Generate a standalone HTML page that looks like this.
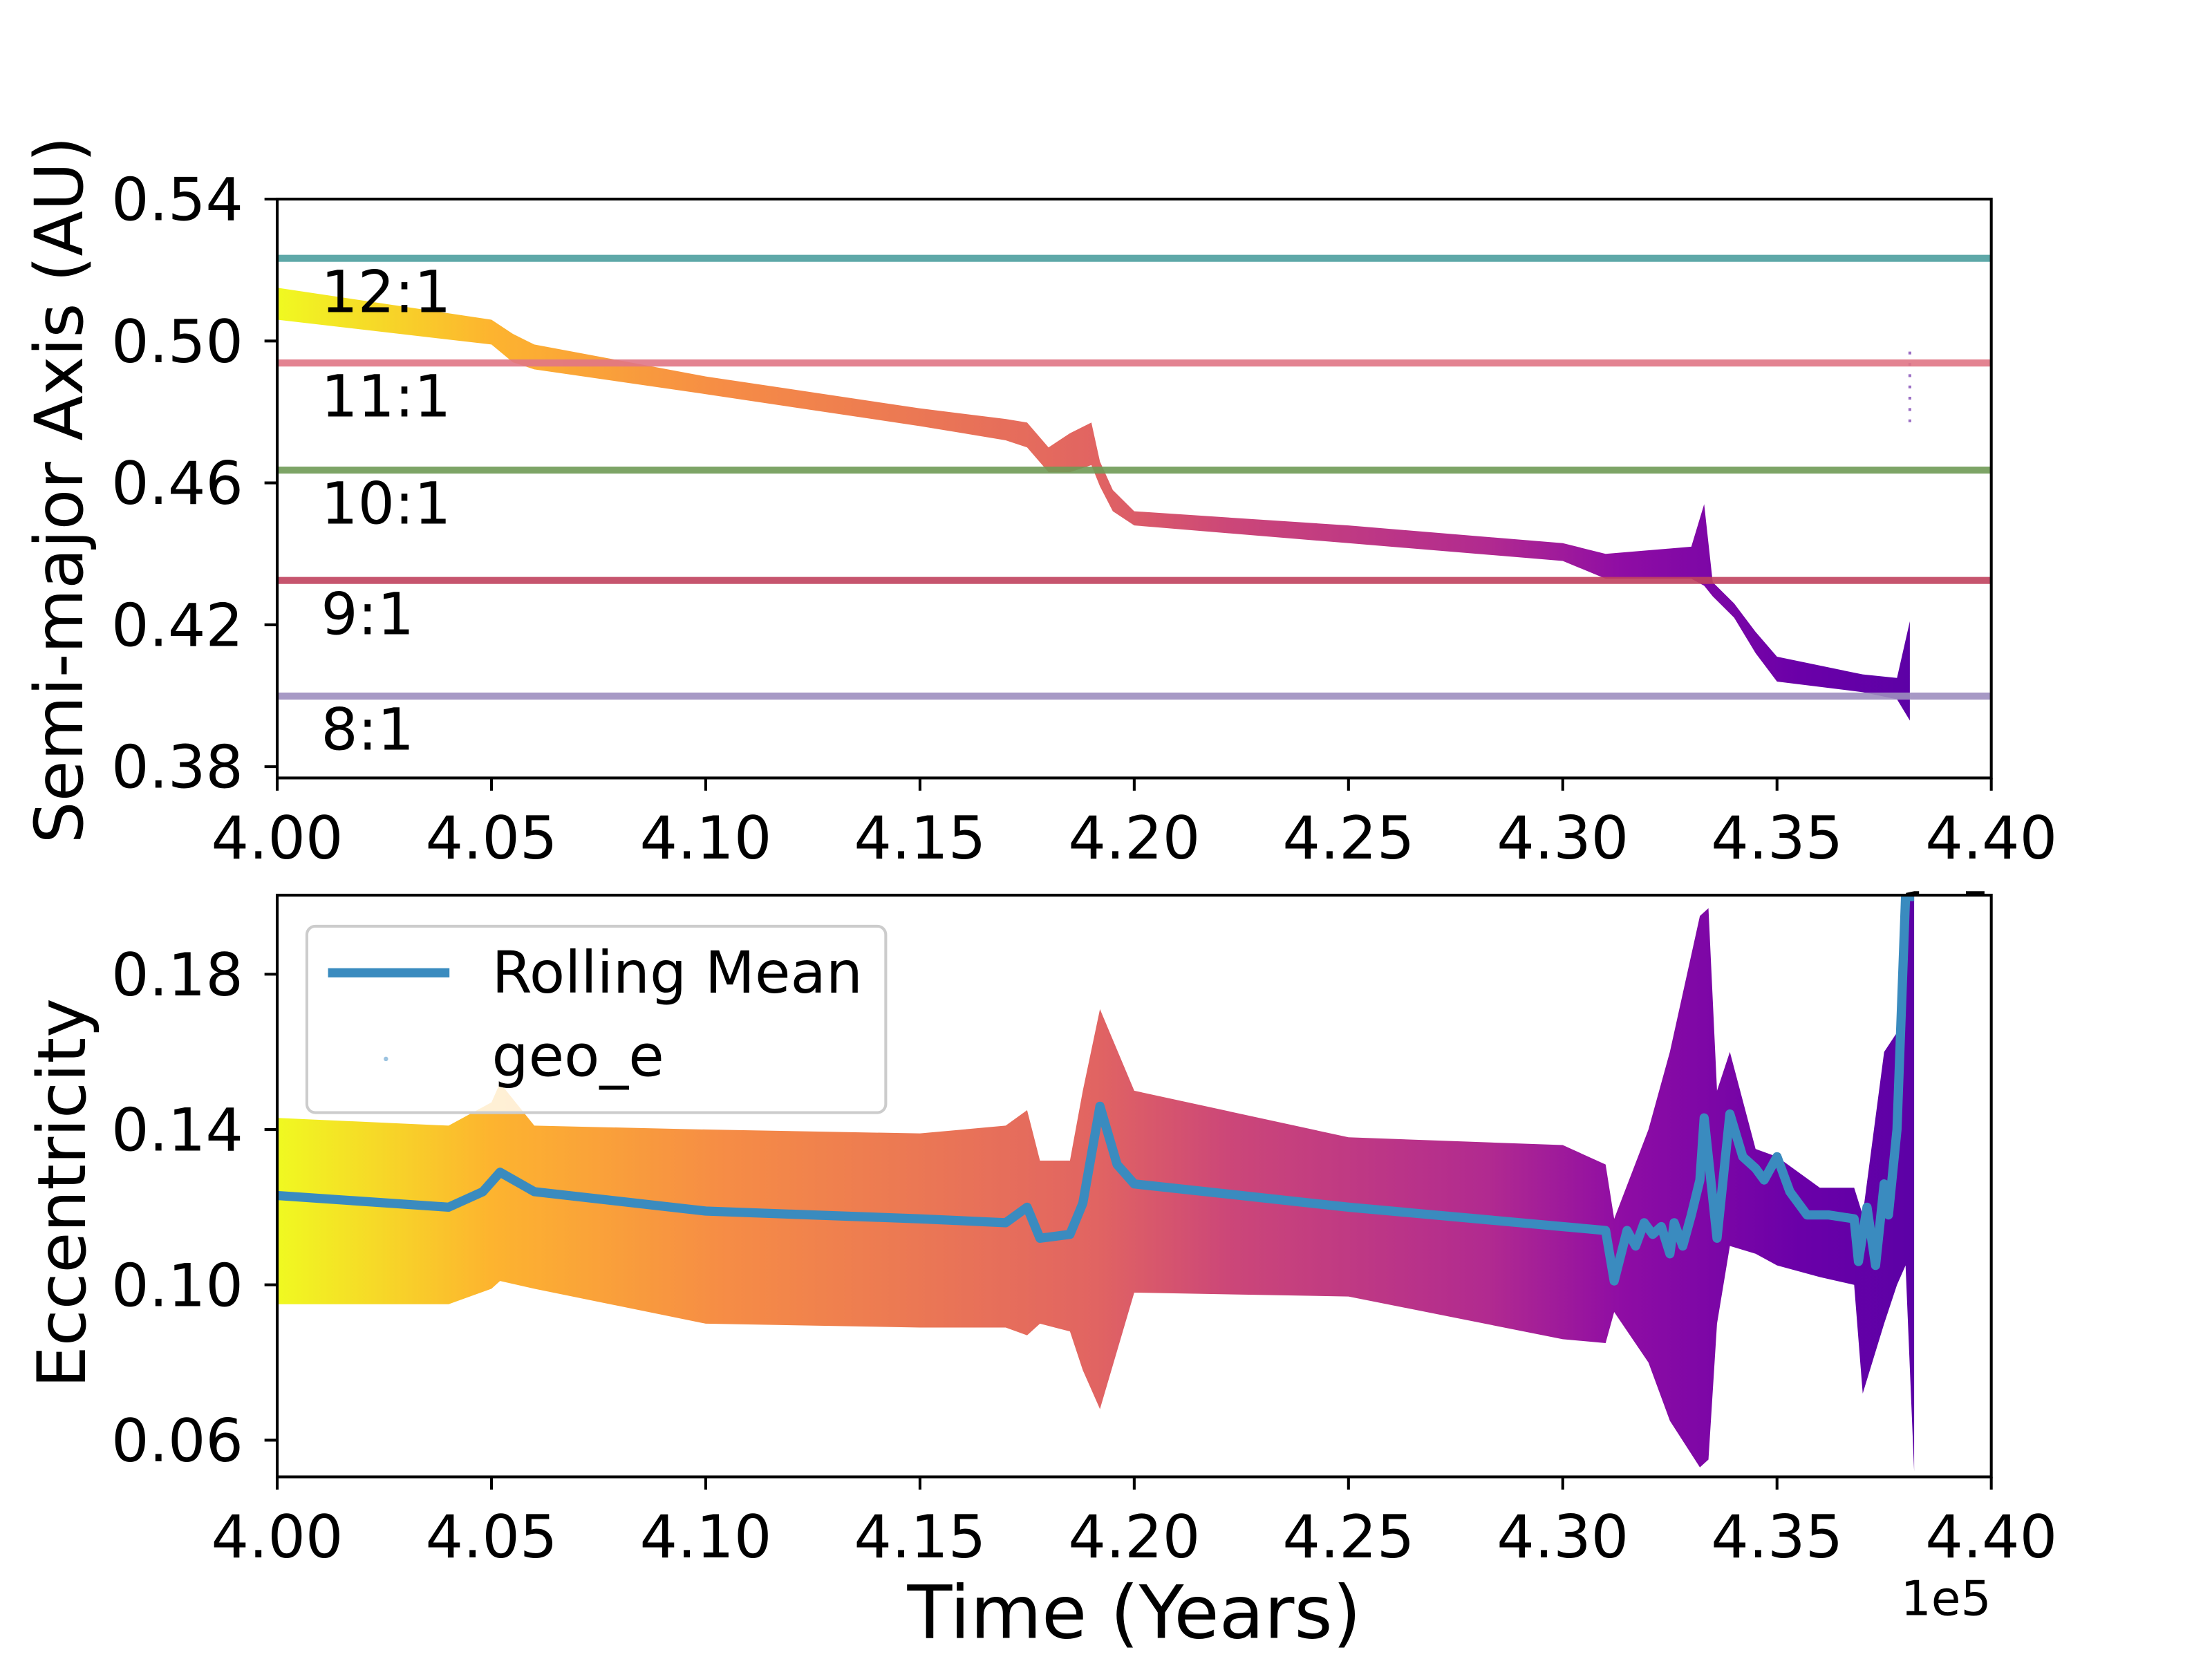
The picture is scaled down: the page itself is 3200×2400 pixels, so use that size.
<!DOCTYPE html>
<html><head><meta charset="utf-8"><style>
html,body{margin:0;padding:0;background:#fff}
svg{display:block}
text{font-family:"DejaVu Sans","Liberation Sans",sans-serif;fill:#000}
</style></head><body>
<svg id="fig" width="3200" height="2400" viewBox="0 0 1566 1175" xmlns="http://www.w3.org/2000/svg">
<defs>
<linearGradient id="plasma" gradientUnits="userSpaceOnUse" x1="196" y1="0" x2="1356" y2="0">
<stop offset="0" stop-color="#f0f921"/><stop offset="0.13" stop-color="#fdb42f"/>
<stop offset="0.27" stop-color="#f68d45"/><stop offset="0.50" stop-color="#e16462"/>
<stop offset="0.58" stop-color="#cc4778"/><stop offset="0.74" stop-color="#b12a90"/>
<stop offset="0.82" stop-color="#8f0da4"/><stop offset="0.93" stop-color="#6a00a8"/>
<stop offset="1" stop-color="#5c01a6"/>
</linearGradient>
</defs>
<g id="topPanel"></g>
<g id="botPanel"></g>
</svg>
<script>
// ---- data ----
const xTicks = [4.00,4.05,4.10,4.15,4.20,4.25,4.30,4.35,4.40];
const aTicks = [0.38,0.42,0.46,0.50,0.54];
const eTicks = [0.06,0.10,0.14,0.18];
const resNames = ["12:1","11:1","10:1","9:1","8:1"];
const resValues = [0.5233,0.4938,0.4636,0.4325,0.3999];
const resColors = ["#4c9f9f","#e07585","#6f9a55","#c0435e","#9d8ebf"];
const aTime = [4.00,4.05,4.055,4.06,4.10,4.15,4.17,4.175,4.18,4.185,4.19,4.192,4.195,4.20,4.25,4.30,4.31,4.33,4.333,4.335,4.34,4.345,4.35,4.37,4.378,4.381];
const aUpper = [0.515,0.506,0.502,0.499,0.490,0.481,0.478,0.477,0.470,0.474,0.477,0.466,0.458,0.452,0.448,0.443,0.440,0.442,0.454,0.432,0.426,0.418,0.411,0.406,0.405,0.421];
const aLower = [0.506,0.499,0.494,0.492,0.485,0.476,0.472,0.470,0.463,0.463,0.465,0.459,0.452,0.448,0.443,0.438,0.433,0.433,0.431,0.428,0.422,0.412,0.404,0.401,0.399,0.393];
const eTime = [4.00,4.04,4.05,4.052,4.06,4.10,4.15,4.17,4.175,4.178,4.185,4.188,4.192,4.20,4.25,4.30,4.31,4.312,4.32,4.325,4.332,4.334,4.336,4.339,4.345,4.35,4.36,4.368,4.37,4.375,4.378,4.380,4.382];
const eUpper = [0.143,0.141,0.147,0.152,0.141,0.140,0.139,0.141,0.145,0.132,0.132,0.150,0.171,0.150,0.138,0.136,0.131,0.117,0.140,0.160,0.195,0.197,0.150,0.160,0.135,0.133,0.125,0.125,0.118,0.160,0.165,0.200,0.200];
const eLower = [0.095,0.095,0.099,0.101,0.099,0.090,0.089,0.089,0.087,0.090,0.088,0.078,0.068,0.098,0.097,0.086,0.085,0.093,0.080,0.065,0.053,0.055,0.090,0.110,0.108,0.105,0.102,0.100,0.072,0.090,0.100,0.105,0.052];
const mTime = [4.00,4.04,4.048,4.052,4.06,4.10,4.15,4.17,4.175,4.178,4.185,4.188,4.192,4.196,4.20,4.25,4.30,4.31,4.312,4.315,4.317,4.319,4.321,4.323,4.325,4.326,4.328,4.330,4.332,4.333,4.336,4.339,4.342,4.345,4.347,4.350,4.353,4.357,4.362,4.368,4.369,4.371,4.373,4.375,4.376,4.378,4.380,4.382];
const mVals = [0.123,0.120,0.124,0.129,0.124,0.119,0.117,0.116,0.120,0.112,0.113,0.121,0.146,0.131,0.126,0.120,0.115,0.114,0.101,0.114,0.110,0.116,0.113,0.115,0.108,0.116,0.110,0.118,0.127,0.143,0.112,0.144,0.133,0.130,0.127,0.133,0.124,0.118,0.118,0.117,0.106,0.120,0.105,0.126,0.118,0.140,0.200,0.200];

// ---- axes geometry ----
const L=196,R=1410;
const X=t=>L+(t-4.00)/(0.40)*(R-L);
const T1=141,B1=551, YA=v=>141+(0.54-v)*2512.5;
const T2=634,B2=1046, YE=v=>690+(0.18-v)*2750;
const NS="http://www.w3.org/2000/svg";
function mk(parent,tag,attrs,txt){const e=document.createElementNS(NS,tag);for(const k in attrs)e.setAttribute(k,attrs[k]);if(txt!==undefined)e.textContent=txt;parent.appendChild(e);return e;}
const topG=document.getElementById('topPanel'), botG=document.getElementById('botPanel');

// ---- top panel ----
let bg=mk(topG,'rect',{x:L,y:T1,width:R-L,height:B1-T1,fill:'#fff'});


let pts=aTime.map((t,i)=>X(t)+','+YA(aUpper[i])).concat(aTime.map((t,i)=>X(t)+','+YA(aLower[i])).reverse());
let band=mk(topG,'polygon',{points:pts.join(' '),fill:'url(#plasma)'});


let outl=mk(topG,'line',{x1:X(4.381),x2:X(4.381),y1:YA(0.497),y2:YA(0.477),stroke:'#9b6fc4','stroke-width':2,'stroke-dasharray':'2 6'});


resValues.forEach((v,i)=>{
  let ln=mk(topG,'line',{x1:L,x2:R,y1:YA(v),y2:YA(v),stroke:resColors[i],'stroke-width':5,'stroke-opacity':0.9});
  
  
  let tx=mk(topG,'text',{x:227,y:YA(v)+38,'font-size':41},resNames[i]);
  
  
});
let fr=mk(topG,'rect',{x:L,y:T1,width:R-L,height:B1-T1,fill:'none',stroke:'#000','stroke-width':2});


aTicks.forEach(v=>{
  let tk=mk(topG,'line',{x1:L-9,x2:L,y1:YA(v),y2:YA(v),stroke:'#000','stroke-width':2});
  
  
  let tl=mk(topG,'text',{x:172,y:YA(v)+15,'font-size':42,'text-anchor':'end'},v.toFixed(2));
  
  
});
xTicks.forEach(v=>{
  let tk=mk(topG,'line',{x1:X(v),x2:X(v),y1:B1,y2:B1+9,stroke:'#000','stroke-width':2});
  
  
  let tl=mk(topG,'text',{x:X(v),y:608,'font-size':42,'text-anchor':'middle'},v.toFixed(2));
  
  
});
let yl=mk(topG,'text',{x:0,y:0,'font-size':47,'text-anchor':'middle',transform:'translate(58,347) rotate(-90)'},'Semi-major Axis (AU)');


let off1=mk(topG,'text',{x:1410,y:656,'font-size':34,'text-anchor':'end'},'1e5');



// ---- bottom panel ----
let bg2=mk(botG,'rect',{x:L,y:T2,width:R-L,height:B2-T2,fill:'#fff'});


let clip=mk(botG,'clipPath',{id:'c2'});mk(clip,'rect',{x:L,y:T2,width:R-L,height:B2-T2});
let g2=mk(botG,'g',{'clip-path':'url(#c2)'});
let pts2=eTime.map((t,i)=>X(t)+','+YE(eUpper[i])).concat(eTime.map((t,i)=>X(t)+','+YE(eLower[i])).reverse());
let band2=mk(g2,'polygon',{points:pts2.join(' '),fill:'url(#plasma)'});


let mean=mk(g2,'polyline',{points:mTime.map((t,i)=>X(t)+','+YE(mVals[i])).join(' '),fill:'none',stroke:'#3a8bbf','stroke-width':6.5,'stroke-linejoin':'round'});


let fr2=mk(botG,'rect',{x:L,y:T2,width:R-L,height:B2-T2,fill:'none',stroke:'#000','stroke-width':2});


eTicks.forEach(v=>{
  let tk=mk(botG,'line',{x1:L-9,x2:L,y1:YE(v),y2:YE(v),stroke:'#000','stroke-width':2});
  
  
  let tl=mk(botG,'text',{x:172,y:YE(v)+15,'font-size':42,'text-anchor':'end'},v.toFixed(2));
  
  
});
xTicks.forEach(v=>{
  let tk=mk(botG,'line',{x1:X(v),x2:X(v),y1:B2,y2:B2+9,stroke:'#000','stroke-width':2});
  
  
  let tl=mk(botG,'text',{x:X(v),y:1103,'font-size':42,'text-anchor':'middle'},v.toFixed(2));
  
  
});
let yl2=mk(botG,'text',{x:0,y:0,'font-size':47,'text-anchor':'middle',transform:'translate(60,845) rotate(-90)'},'Eccentricity');


let xl=mk(botG,'text',{x:803,y:1160,'font-size':52,'text-anchor':'middle'},'Time (Years)');


let off2=mk(botG,'text',{x:1410,y:1144,'font-size':34,'text-anchor':'end'},'1e5');


// legend
let lg=mk(botG,'g',{});


mk(lg,'rect',{x:217,y:656,width:410,height:132,rx:6,fill:'#fff','fill-opacity':0.8,stroke:'#ccc','stroke-width':2});
let le1=mk(lg,'line',{x1:232,x2:318,y1:689,y2:689,stroke:'#3a8bbf','stroke-width':6.5});


let lt1=mk(lg,'text',{x:348,y:703,'font-size':41},'Rolling Mean');


let le2=mk(lg,'circle',{cx:273,cy:750,r:1.6,fill:'#9cc3e0'});


let lt2=mk(lg,'text',{x:348,y:762,'font-size':41},'geo_e');


</script>
</body></html>
